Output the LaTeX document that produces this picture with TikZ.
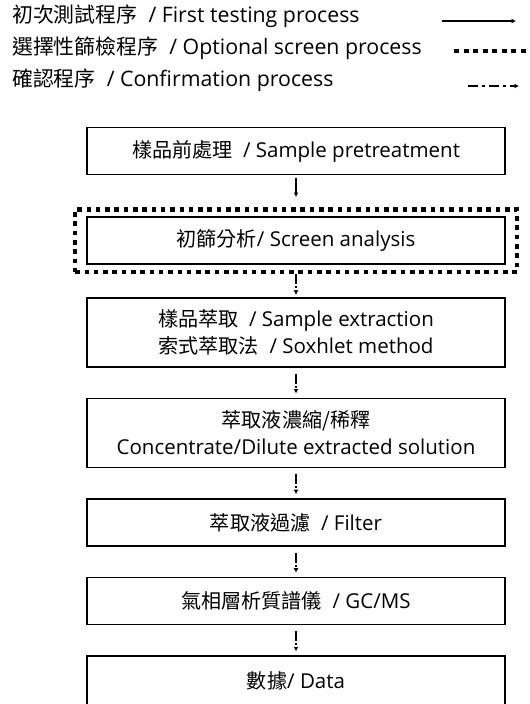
\documentclass[tikz,border=0pt]{standalone}
\usepackage{fontspec}
\setmainfont{Open Sans}
\newfontfamily\cjk[Scale=0.98]{Noto Sans CJK TC}
\usetikzlibrary{positioning,fit,arrows.meta}

\begin{document}
\begin{tikzpicture}[x=1pt,y=-1pt,node distance=30pt,>={Latex[length=4.5pt,width=5pt]},font=\fontsize{20.5}{27}\selectfont]

\tikzstyle{box}=[draw=black,line width=1.6pt,minimum width=418pt,minimum height=47pt,align=center,inner sep=2pt]
\tikzstyle{screen}=[draw=black,line width=4.5pt,dash pattern=on 4.5pt off 4.8pt,inner xsep=11pt,inner ysep=7pt]
\tikzstyle{first}=[->,line width=1.4pt]
\tikzstyle{confirm}=[->,line width=1.8pt,dash pattern=on 10pt off 2pt on 2pt off 2pt]
\tikzstyle{key}=[anchor=west,inner sep=0pt,font=\fontsize{21.3}{27}\selectfont]

    \useasboundingbox (0,0) rectangle (530,704);

    % legend
    \node[key] (k1) at (12,16) {{\cjk 初次測試程序}\ \ / First testing process};
    \node[key] (k2) at (12,48) {{\cjk 選擇性篩檢程序}\ \ / Optional screen process};
    \node[key] (k3) at (12,80) {{\cjk 確認程序}\ \ / Confirmation process};

    \coordinate (k1a) at (442,21);  \coordinate (k1b) at (516,21);
    \coordinate (k2a) at (454,51);  \coordinate (k2b) at (527,51);
    \coordinate (k3a) at (468,86);  \coordinate (k3b) at (519,86);

    % flow
    \node[box] at (296,151)             (pre)  {{\cjk 樣品前處理}~ / Sample pretreatment};
    \node[box,below=41pt of pre]        (scr)  {{\cjk 初篩分析}/ Screen analysis};
    \node[screen,fit=(scr)]             (opt)  {};
    \node[box,minimum height=69pt,below=32pt of scr] (ext)
        {{\cjk 樣品萃取}~ / Sample extraction\\{\cjk 索式萃取法}~ / Soxhlet method};
    \node[box,minimum height=69pt,below=of ext]      (conc)
        {{\cjk 萃取液濃縮/稀釋}\\Concentrate/Dilute extracted solution};
    \node[box,below=of conc]            (filt) {{\cjk 萃取液過濾}~ / Filter};
    \node[box,below=of filt]            (gcms) {{\cjk 氣相層析質譜儀}~ / GC/MS};
    \node[box,minimum height=50pt,below=of gcms] (data) {{\cjk 數據}/ Data};

	\path
	(k1a) edge[first]     (k1b)
	(k2a) edge[-,line width=4.5pt,dash pattern=on 5pt off 4.5pt] (k2b)
	(k3a) edge[confirm,dash pattern=on 10pt off 4pt on 3pt off 4pt] (k3b)

	(pre) edge[first,shorten <=3pt,shorten >=10pt]      (opt)
	(opt) edge[confirm,shorten <=0pt,shorten >=2pt]     (ext)
	(ext) edge[confirm,shorten <=6pt,shorten >=4pt]     (conc)
	(conc) edge[confirm,shorten <=6pt,shorten >=4pt]    (filt)
	(filt) edge[confirm,shorten <=6pt,shorten >=4pt]    (gcms)
	(gcms) edge[confirm,shorten <=6pt,shorten >=4pt]    (data);

\end{tikzpicture}
\end{document}
